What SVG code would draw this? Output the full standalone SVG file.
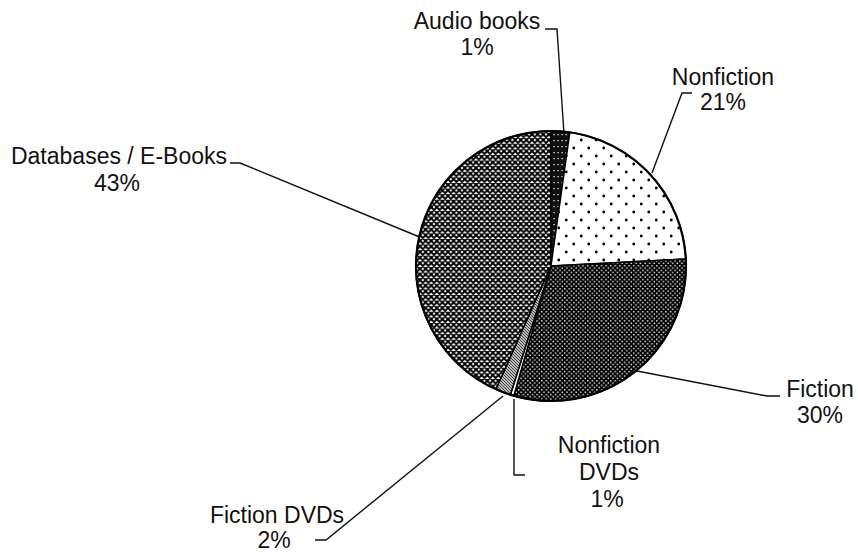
<svg xmlns="http://www.w3.org/2000/svg" width="858" height="552" viewBox="0 0 858 552">
<style>
.lbl{font-family:"Liberation Sans",Arial,sans-serif;font-size:23px;fill:#111;text-anchor:middle}
.lead{fill:none;stroke:#111;stroke-width:1.4}
.sl{stroke:#000;stroke-width:1.5;stroke-linejoin:round}
</style>
<defs>
<pattern id="pCross" width="5.6" height="5.6" patternUnits="userSpaceOnUse">
<rect width="5.6" height="5.6" fill="#fff"/>
<path d="M-1,-1 L6.6,6.6 M-1,4.6 L1,6.6 M4.6,-1 L6.6,1 M6.6,-1 L-1,6.6 M1,-1 L-1,1 M6.6,4.6 L4.6,6.6" stroke="#000" stroke-width="1.9"/>
</pattern>
<pattern id="pDark" width="4.6" height="4.6" patternUnits="userSpaceOnUse">
<rect width="4.6" height="4.6" fill="#000"/>
<rect x="0.5" y="0.5" width="1.4" height="1.4" fill="#fff"/>
<rect x="2.8" y="2.8" width="1.4" height="1.4" fill="#fff"/>
</pattern>
<pattern id="pDots" width="15" height="16" patternUnits="userSpaceOnUse">
<rect width="15" height="16" fill="#fff"/>
<circle cx="3.75" cy="4" r="1.4" fill="#000"/>
<circle cx="11.25" cy="12" r="1.4" fill="#000"/>
</pattern>
<pattern id="pAudio" width="4" height="6" patternUnits="userSpaceOnUse">
<rect width="4" height="6" fill="#111"/>
<rect x="1.5" y="2" width="1.2" height="1.2" fill="#fff"/>
</pattern>
<pattern id="pGray" width="3" height="3" patternUnits="userSpaceOnUse">
<rect width="3" height="3" fill="#bbb"/>
<path d="M0,0 L3,3" stroke="#333" stroke-width="0.9"/>
</pattern>
</defs>

<g id="connectors">
<path class="lead" d="M545,29 L557,29 L564,134"/>
<path class="lead" d="M692,93 L682,93 L652,173"/>
<path class="lead" d="M230,163 L240,163 L422,238"/>
<path class="lead" d="M780,396 L767,396 L637,371"/>
<path class="lead" d="M514,399 L514,475 L525,475"/>
<path class="lead" d="M315,540 L326,540 L503,396"/>
</g>

<g id="pie">
<path id="slice-databases" class="sl" fill="url(#pCross)" d="M551,266 L496.1,389.3 A135,135 0 0,1 551,131 Z"/>
<path id="slice-audio" class="sl" fill="url(#pAudio)" d="M551,266 L551,131 A135,135 0 0,1 569.8,132.3 Z"/>
<path id="slice-nonfiction" class="sl" fill="url(#pDots)" d="M551,266 L569.8,132.3 A135,135 0 0,1 685.8,258.9 Z"/>
<path id="slice-fiction" class="sl" fill="url(#pDark)" d="M551,266 L685.8,258.9 A135,135 0 0,1 513.8,395.8 Z"/>
<path id="slice-nfdvd" class="sl" fill="#fff" stroke-width="0.8" d="M551,266 L513.8,395.8 A135,135 0 0,1 510.4,394.7 Z"/>
<path id="slice-fdvd" class="sl" fill="url(#pGray)" d="M551,266 L510.4,394.7 A135,135 0 0,1 496.1,389.3 Z"/>
<circle cx="551" cy="266" r="135" fill="none" stroke="#000" stroke-width="2.2"/>
</g>

<g id="label-audio">
<text class="lbl" x="477" y="29">Audio books</text>
<text class="lbl" x="477" y="55">1%</text>
</g>
<g id="label-nonfiction">
<text class="lbl" x="723" y="85">Nonfiction</text>
<text class="lbl" x="723" y="110">21%</text>
</g>
<g id="label-databases">
<text class="lbl" x="119" y="164">Databases / E-Books</text>
<text class="lbl" x="117" y="191">43%</text>
</g>
<g id="label-fiction">
<text class="lbl" x="820" y="397">Fiction</text>
<text class="lbl" x="820" y="423">30%</text>
</g>
<g id="label-nfdvd">
<text class="lbl" x="609" y="453">Nonfiction</text>
<text class="lbl" x="609" y="480">DVDs</text>
<text class="lbl" x="607" y="507">1%</text>
</g>
<g id="label-fdvd">
<text class="lbl" x="277" y="523">Fiction DVDs</text>
<text class="lbl" x="274" y="548">2%</text>
</g>
</svg>
